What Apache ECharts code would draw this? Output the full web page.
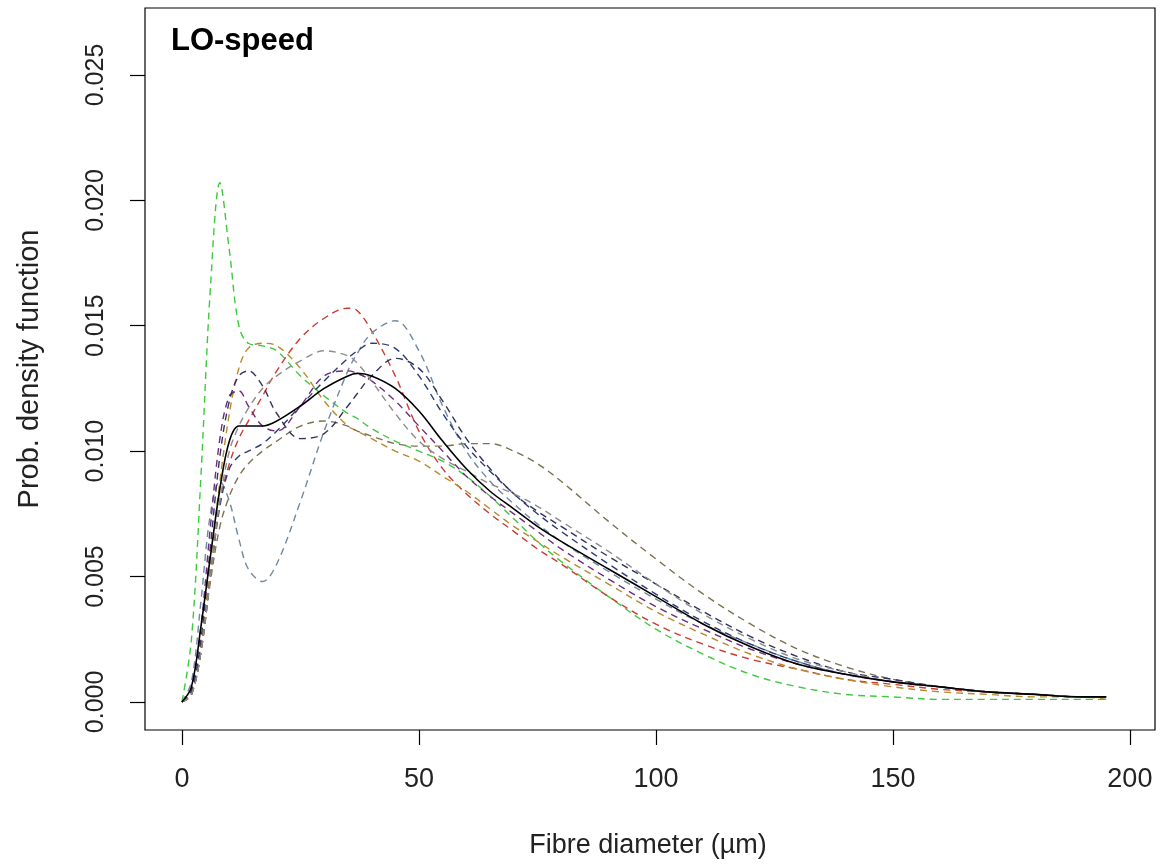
<!DOCTYPE html>
<html>
<head>
<meta charset="utf-8">
<script src="https://cdn.jsdelivr.net/npm/echarts@6/dist/echarts.min.js"></script>
<style>
html,body{margin:0;padding:0;background:#fff;}
#chart{width:1164px;height:868px;}
</style>
</head>
<body>
<div id="chart"></div>
<script>
// ---- data ----
const xs = [0, 2, 4, 6, 8, 10, 12, 14, 17, 20, 25, 30, 35, 37, 40, 45, 50, 55, 60, 65, 70, 75, 80, 90, 100, 110, 120, 130, 140, 150, 160, 170, 180, 190, 195];
const xTicks = [0, 50, 100, 150, 200];
const yTicks = [0, 0.005, 0.010, 0.015, 0.020, 0.025];

const meanCurve =   [0, 0.0006, 0.0030, 0.0058, 0.0085, 0.0104, 0.0110, 0.0110, 0.0110, 0.0112, 0.0118, 0.0125, 0.0130, 0.0131, 0.0130, 0.0125, 0.0116, 0.0104, 0.0093, 0.0084, 0.0077, 0.0070, 0.0064, 0.0053, 0.0042, 0.0031, 0.0022, 0.0015, 0.0011, 0.0008, 0.0006, 0.0004, 0.0003, 0.0002, 0.0002];
const greenCurve =  [0, 0.0025, 0.0090, 0.0165, 0.0207, 0.0180, 0.0150, 0.0143, 0.0142, 0.0140, 0.0130, 0.0122, 0.0115, 0.0113, 0.0109, 0.0104, 0.0100, 0.0096, 0.0090, 0.0082, 0.0073, 0.0064, 0.0056, 0.0042, 0.0029, 0.0019, 0.0011, 0.0006, 0.0003, 0.0002, 0.0001, 0.0001, 0.0001, 0.0001, 0.0001];
const redCurve =    [0, 0.0003, 0.0020, 0.0050, 0.0080, 0.0095, 0.0105, 0.0112, 0.0122, 0.0132, 0.0145, 0.0153, 0.0157, 0.0156, 0.0148, 0.0130, 0.0108, 0.0093, 0.0083, 0.0075, 0.0068, 0.0061, 0.0055, 0.0042, 0.0031, 0.0023, 0.0017, 0.0013, 0.0009, 0.0007, 0.0005, 0.0004, 0.0003, 0.0002, 0.0002];
const orangeCurve = [0, 0.0003, 0.0022, 0.0055, 0.0088, 0.0115, 0.0133, 0.0141, 0.0143, 0.0142, 0.0133, 0.0120, 0.0110, 0.0108, 0.0105, 0.0100, 0.0096, 0.0090, 0.0084, 0.0077, 0.0070, 0.0064, 0.0058, 0.0047, 0.0036, 0.0027, 0.0019, 0.0013, 0.0009, 0.0006, 0.0004, 0.0003, 0.0002, 0.0002, 0.0001];
const steelCurve =  [0, 0.0008, 0.0040, 0.0075, 0.0088, 0.0080, 0.0065, 0.0053, 0.0048, 0.0055, 0.0080, 0.0108, 0.0132, 0.0139, 0.0147, 0.0152, 0.0140, 0.0118, 0.0100, 0.0088, 0.0079, 0.0071, 0.0064, 0.0052, 0.0041, 0.0031, 0.0023, 0.0016, 0.0011, 0.0008, 0.0006, 0.0004, 0.0003, 0.0002, 0.0002];
const navyCurve =   [0, 0.0003, 0.0020, 0.0050, 0.0078, 0.0093, 0.0098, 0.0100, 0.0103, 0.0108, 0.0118, 0.0128, 0.0137, 0.0140, 0.0143, 0.0141, 0.0130, 0.0115, 0.0102, 0.0092, 0.0083, 0.0075, 0.0068, 0.0055, 0.0043, 0.0032, 0.0023, 0.0016, 0.0011, 0.0008, 0.0006, 0.0004, 0.0003, 0.0002, 0.0002];
const purpleCurve = [0, 0.0005, 0.0030, 0.0070, 0.0105, 0.0122, 0.0124, 0.0118, 0.0110, 0.0108, 0.0118, 0.0130, 0.0132, 0.0131, 0.0128, 0.0120, 0.0110, 0.0100, 0.0090, 0.0082, 0.0075, 0.0068, 0.0061, 0.0049, 0.0038, 0.0029, 0.0021, 0.0015, 0.0011, 0.0008, 0.0006, 0.0004, 0.0003, 0.0002, 0.0002];
const oliveCurve =  [0, 0.0003, 0.0020, 0.0048, 0.0070, 0.0082, 0.0090, 0.0095, 0.0100, 0.0104, 0.0110, 0.0112, 0.0110, 0.0108, 0.0106, 0.0103, 0.0102, 0.0102, 0.0103, 0.0103, 0.0100, 0.0095, 0.0088, 0.0072, 0.0057, 0.0043, 0.0031, 0.0021, 0.0014, 0.0009, 0.0006, 0.0004, 0.0003, 0.0002, 0.0002];
const darkCurve =   [0, 0.0004, 0.0025, 0.0062, 0.0098, 0.0120, 0.0130, 0.0132, 0.0126, 0.0115, 0.0105, 0.0107, 0.0118, 0.0123, 0.0130, 0.0137, 0.0133, 0.0120, 0.0105, 0.0093, 0.0083, 0.0076, 0.0070, 0.0058, 0.0047, 0.0036, 0.0026, 0.0018, 0.0012, 0.0009, 0.0006, 0.0004, 0.0003, 0.0002, 0.0002];
const grayCurve =   [0, 0.0003, 0.0020, 0.0050, 0.0080, 0.0100, 0.0110, 0.0117, 0.0125, 0.0130, 0.0136, 0.0140, 0.0138, 0.0135, 0.0128, 0.0115, 0.0104, 0.0097, 0.0092, 0.0087, 0.0083, 0.0078, 0.0072, 0.0060, 0.0047, 0.0035, 0.0025, 0.0017, 0.0012, 0.0008, 0.0006, 0.0004, 0.0003, 0.0002, 0.0002];

const dashedSeries = [
  {name: 'g', color: '#3ec83e', values: greenCurve},
  {name: 'r', color: '#cc3a32', values: redCurve},
  {name: 'o', color: '#b98a2c', values: orangeCurve},
  {name: 's', color: '#6f88a2', values: steelCurve},
  {name: 'n', color: '#2b3a7a', values: navyCurve},
  {name: 'p', color: '#6e2c80', values: purpleCurve},
  {name: 'ol', color: '#7d7250', values: oliveCurve},
  {name: 'd', color: '#33335c', values: darkCurve},
  {name: 'gr', color: '#8c8c8c', values: grayCurve}
];

const chart = echarts.init(document.getElementById('chart'), null, {renderer: 'canvas'});
const FONT = '"Liberation Sans", Arial, sans-serif';

const series = dashedSeries.map(s => ({
  type: 'line', name: s.name, showSymbol: false, symbol: 'none', smooth: 0.35,
  data: xs.map((x, i) => [x, s.values[i]]),
  lineStyle: {color: s.color, width: 1.4, type: [7, 5]}
}));
series.push({
  type: 'line', name: 'mean', showSymbol: false, symbol: 'none', smooth: 0.35,
  data: xs.map((x, i) => [x, meanCurve[i]]),
  lineStyle: {color: '#000', width: 1.6, type: 'solid'}, z: 5
});

chart.setOption({
  animation: false,
  backgroundColor: '#fff',
  title: {
    text: 'LO-speed', left: 166, top: 21,
    textStyle: {fontFamily: FONT, fontWeight: 'bold', fontSize: 31, color: '#000'}
  },
  grid: {left: 145, top: 8, width: 1010, height: 722, show: true, borderColor: '#000', borderWidth: 1.2, backgroundColor: 'transparent'},
  xAxis: {
    type: 'value', min: -7.8, max: 205.3,
    axisLine: {show: false, onZero: false},
    splitLine: {show: false},
    axisTick: {show: true, inside: false, length: 15, lineStyle: {color: '#000', width: 1.2}, customValues: xTicks},
    axisLabel: {customValues: xTicks, margin: 36, fontFamily: FONT, fontSize: 27, color: '#222'}
  },
  yAxis: {
    type: 'value', min: -0.00112, max: 0.02767,
    axisLine: {show: false, onZero: false},
    splitLine: {show: false},
    axisTick: {show: true, inside: false, length: 15, lineStyle: {color: '#000', width: 1.2}, customValues: yTicks},
    axisLabel: {customValues: yTicks, rotate: 90, margin: 36, fontFamily: FONT, fontSize: 25, color: '#222',
      formatter: v => v.toFixed(3)}
  },
  graphic: [
    {type: 'text', x: 648, y: 832, style: {text: 'Fibre diameter (\u00b5m)', font: '27px ' + FONT, fill: '#222', align: 'center', verticalAlign: 'top'}},
    {type: 'text', x: 15, y: 369, rotation: Math.PI / 2, style: {text: 'Prob. density function', font: '29px ' + FONT, fill: '#222', align: 'center', verticalAlign: 'top'}}
  ],
  series: series
});
</script>
</body>
</html>
